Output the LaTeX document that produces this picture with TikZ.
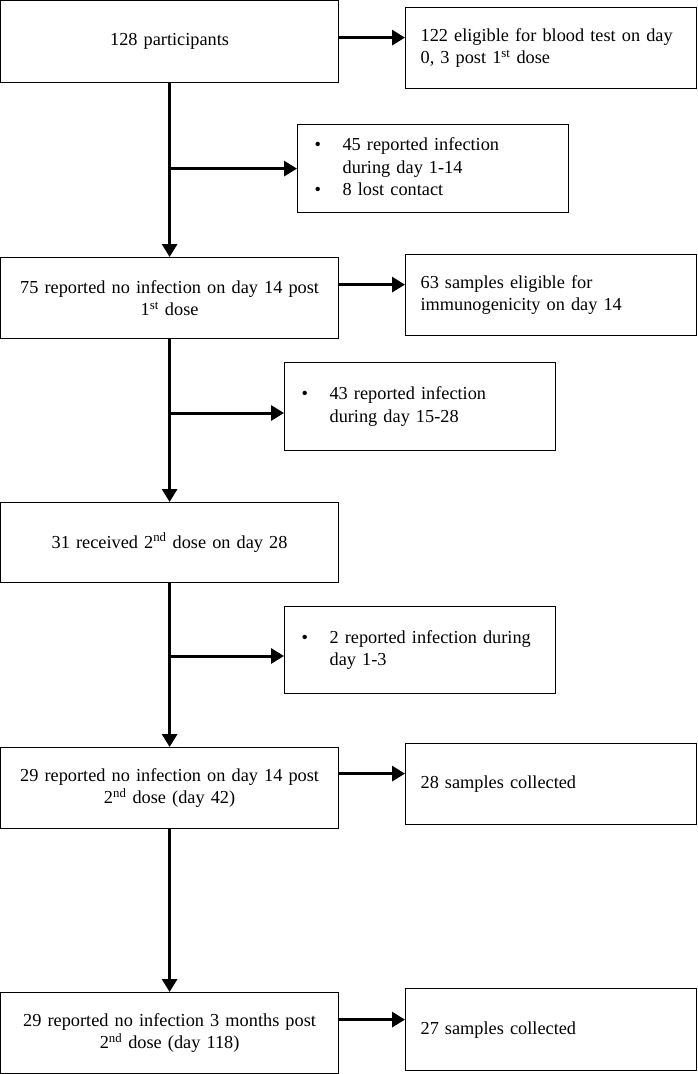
\documentclass[tikz,border=0pt]{standalone}
\usepackage{fontspec}
\setmainfont{Liberation Serif}
\usetikzlibrary{arrows.meta}

\begin{document}
\begin{tikzpicture}[x=1pt,y=-1pt,
 every node/.style={font=\fontsize{18.3}{22.5}\selectfont},
 mainbox/.style={draw,line width=1.2pt,anchor=north west,minimum width=338,
  text width=320,align=center},
 sidebox/.style={draw,line width=1.2pt,anchor=north west,minimum width=291,
  inner xsep=15,text width=261,align=left},
 listbox/.style={draw,line width=1.2pt,anchor=north west,minimum width=271,
  inner xsep=17,text width=237,align=left},
 arr/.style={line width=3pt,-{Triangle[length=13pt,width=15pt]}}]

\newcommand{\bul}[1] % list with bullets
{\noindent\begin{tabular}{@{}p{28pt}@{}l@{}}#1\end{tabular}}
\def\st {\textsuperscript{st}} \def\nd {\textsuperscript{nd}}

\useasboundingbox (0,0) rectangle (697,1074);

% main column
\node[mainbox,minimum height=82] (p0) at (0,0) {128 participants};
\node[mainbox,minimum height=81] (p1) at (0,257)
 {75 reported no infection on day 14 post\\1\st{} dose};
\node[mainbox,minimum height=80] (p2) at (0,502)
 {31 received 2\nd{} dose on day 28};
\node[mainbox,minimum height=81] (p3) at (0,747)
 {29 reported no infection on day 14 post\\2\nd{} dose (day 42)};
\node[mainbox,minimum height=81] (p4) at (0,992)
 {29 reported no infection 3 months post\\2\nd{} dose (day 118)};

% samples
\node[sidebox,minimum height=81] (r1) at (405,7)
 {122 eligible for blood test on day\\0, 3 post 1\st{} dose};
\node[sidebox,minimum height=81] (r2) at (405,254)
 {63 samples eligible for\\immunogenicity on day 14};
\node[sidebox,minimum height=81] (r3) at (405,743) {28 samples collected};
\node[sidebox,minimum height=82] (r4) at (405,988) {27 samples collected};

% exclusions
\node[listbox,minimum height=88] (b1) at (297,124)
 {\bul{\textbullet & 45 reported infection\\ & during day 1-14\\
  \textbullet & 8 lost contact}};
\node[listbox,minimum height=88] (b2) at (284,362)
 {\bul{\textbullet & 43 reported infection\\ & during day 15-28}};
\node[listbox,minimum height=87] (b3) at (284,606)
 {\bul{\textbullet & 2 reported infection during\\ & day 1-3}};

\draw[arr] (p0) -- (p1);
\draw[arr] (p1) -- (p2);
\draw[arr] (p2) -- (p3);
\draw[arr] (p3) -- (p4);

\draw[arr] (p0.south |- b1.west) -- (b1.west);
\draw[arr] (p1.south |- 0,413) -- (b2.west |- 0,413);
\draw[arr] (p2.south |- 0,656) -- (b3.west |- 0,656);

\draw[arr] ([yshift=4pt]p0.east) -- ([yshift=4pt]p0.east -| r1.west);
\draw[arr] ([yshift=13.5pt]p1.east) -- ([yshift=13.5pt]p1.east -| r2.west);
\draw[arr] ([yshift=14.5pt]p3.east) -- ([yshift=14.5pt]p3.east -| r3.west);
\draw[arr] ([yshift=13.5pt]p4.east) -- ([yshift=13.5pt]p4.east -| r4.west);
\end{tikzpicture}
\end{document}
